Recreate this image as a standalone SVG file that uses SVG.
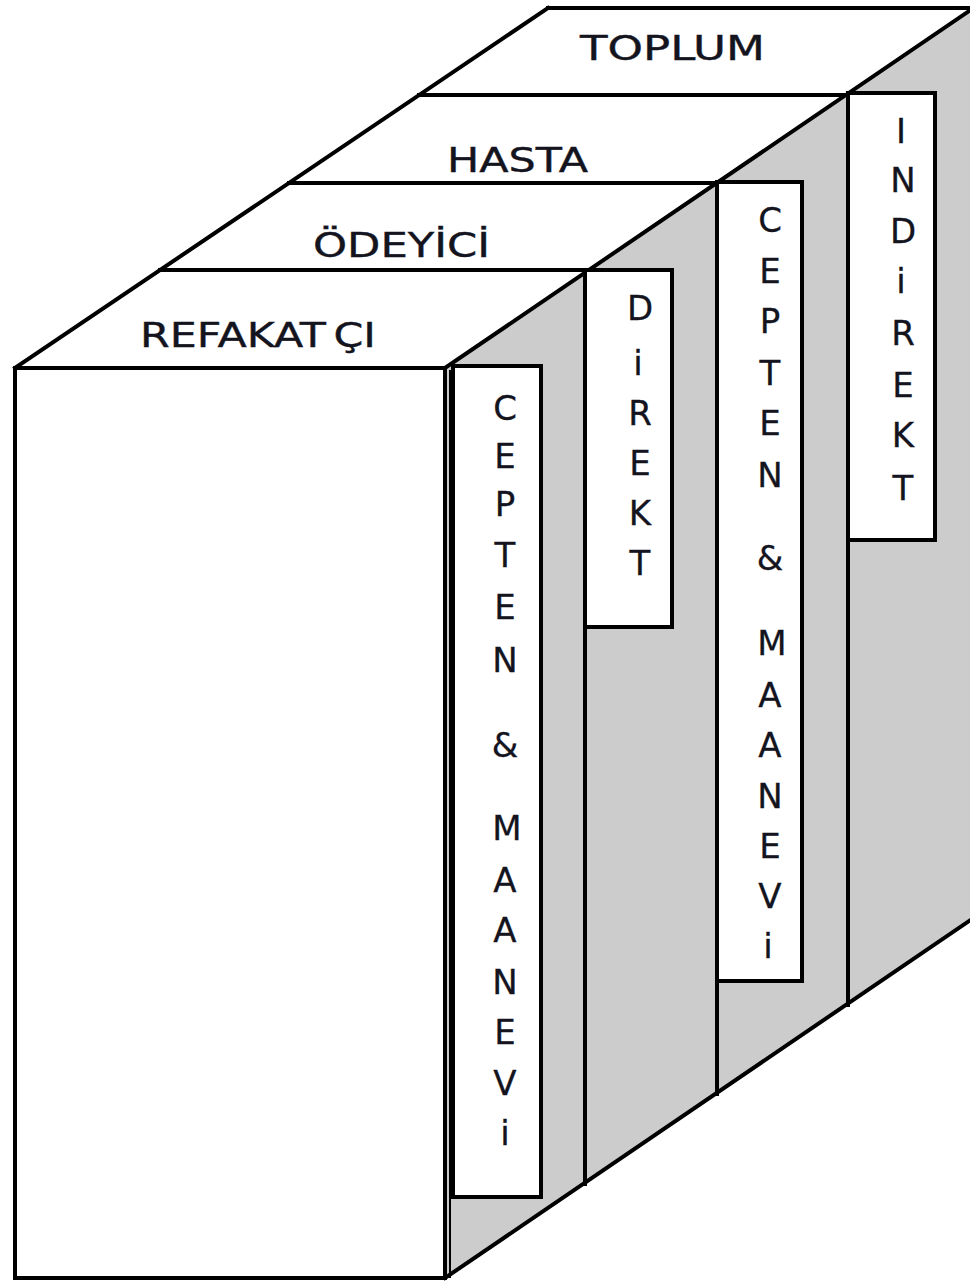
<svg xmlns="http://www.w3.org/2000/svg" width="970" height="1282" viewBox="0 0 970 1282">
  <style>
    .edge { fill: none; stroke: #000; stroke-width: 4; stroke-linecap: square; }
    .side { fill: #cccccc; stroke: none; }
    .face { fill: #ffffff; stroke: #000; stroke-width: 4; }
    .tab { fill: #ffffff; stroke: #000; stroke-width: 4; }
    .top { font-family: "DejaVu Sans", "Liberation Sans", sans-serif; font-size: 34px; fill: #14141e; stroke: #14141e; stroke-width: 0.4; }
    .v { font-family: "DejaVu Sans", "Liberation Sans", sans-serif; font-size: 34px; fill: #14141e; stroke: #14141e; stroke-width: 0.3; text-anchor: middle; }
  </style>

  <!-- shaded right side of the stacked slabs -->
  <polygon class="side" points="445,368 970,10 970,920 445,1278"/>

  <!-- front face of the first slab -->
  <g id="front">
    <rect class="face" x="15" y="368" width="430" height="910"/>
    <line x1="450" y1="370" x2="450" y2="1278" stroke="#000" stroke-width="2"/>
  </g>

  <!-- outline edges and slab dividers -->
  <g id="connectors">
    <line class="edge" x1="15" y1="368" x2="548" y2="8"/>
    <line class="edge" x1="548" y1="8" x2="972" y2="8"/>
    <line class="edge" x1="419" y1="95" x2="848" y2="95"/>
    <line class="edge" x1="289" y1="183" x2="717" y2="183"/>
    <line class="edge" x1="160" y1="270" x2="585" y2="270"/>
    <line class="edge" x1="445" y1="368" x2="975" y2="7"/>
    <line class="edge" x1="445" y1="1278" x2="975" y2="917"/>
    <line class="edge" x1="585" y1="270" x2="585" y2="1184"/>
    <line class="edge" x1="717" y1="183" x2="717" y2="1094"/>
    <line class="edge" x1="848" y1="95" x2="848" y2="1005"/>
  </g>

  <!-- slab names on the top faces -->
  <g id="slab-toplum"><text class="top" x="580" y="60" textLength="185" lengthAdjust="spacingAndGlyphs">TOPLUM</text></g>
  <g id="slab-hasta"><text class="top" x="447" y="172" textLength="141" lengthAdjust="spacingAndGlyphs">HASTA</text></g>
  <g id="slab-odeyici"><text class="top" x="313" y="257" textLength="177" lengthAdjust="spacingAndGlyphs">ÖDEYİCİ</text></g>
  <g id="slab-refakatci"><text class="top" x="140" y="347" textLength="236" lengthAdjust="spacingAndGlyphs">REFAKAT<tspan dx="8">ÇI</tspan></text></g>

  <!-- tab 1: CEPTEN & MAANEVi -->
  <g id="tab-refakatci">
    <rect class="tab" x="453" y="366" width="88" height="831"/>
    <text class="v" x="505" y="420">C</text>
    <text class="v" x="505" y="468">E</text>
    <text class="v" x="505" y="516">P</text>
    <text class="v" x="505" y="567">T</text>
    <text class="v" x="505" y="619">E</text>
    <text class="v" x="505" y="672">N</text>
    <text class="v" x="505" y="757">&amp;</text>
    <text class="v" x="507" y="840">M</text>
    <text class="v" x="505" y="892">A</text>
    <text class="v" x="505" y="942">A</text>
    <text class="v" x="505" y="994">N</text>
    <text class="v" x="505" y="1044">E</text>
    <text class="v" x="505" y="1095">V</text>
    <text class="v" x="505" y="1145">i</text>
  </g>

  <!-- tab 2: DiREKT -->
  <g id="tab-odeyici">
    <rect class="tab" x="585" y="270" width="87" height="357"/>
    <text class="v" x="640" y="320">D</text>
    <text class="v" x="638" y="375">i</text>
    <text class="v" x="640" y="425">R</text>
    <text class="v" x="640" y="475">E</text>
    <text class="v" x="640" y="525">K</text>
    <text class="v" x="640" y="575">T</text>
  </g>

  <!-- tab 3: CEPTEN & MAANEVi -->
  <g id="tab-hasta">
    <rect class="tab" x="717" y="182" width="85" height="799"/>
    <text class="v" x="770" y="232">C</text>
    <text class="v" x="770" y="283">E</text>
    <text class="v" x="770" y="333">P</text>
    <text class="v" x="770" y="385">T</text>
    <text class="v" x="770" y="435">E</text>
    <text class="v" x="770" y="487">N</text>
    <text class="v" x="770" y="570">&amp;</text>
    <text class="v" x="772" y="655">M</text>
    <text class="v" x="770" y="707">A</text>
    <text class="v" x="770" y="757">A</text>
    <text class="v" x="770" y="808">N</text>
    <text class="v" x="770" y="858">E</text>
    <text class="v" x="770" y="908">V</text>
    <text class="v" x="768" y="958">i</text>
  </g>

  <!-- tab 4: INDiREKT -->
  <g id="tab-toplum">
    <rect class="tab" x="848" y="93" width="87" height="447"/>
    <text class="v" x="901" y="143">I</text>
    <text class="v" x="903" y="192">N</text>
    <text class="v" x="903" y="243">D</text>
    <text class="v" x="901" y="293">i</text>
    <text class="v" x="903" y="345">R</text>
    <text class="v" x="903" y="397">E</text>
    <text class="v" x="903" y="447">K</text>
    <text class="v" x="903" y="500">T</text>
  </g>
</svg>
